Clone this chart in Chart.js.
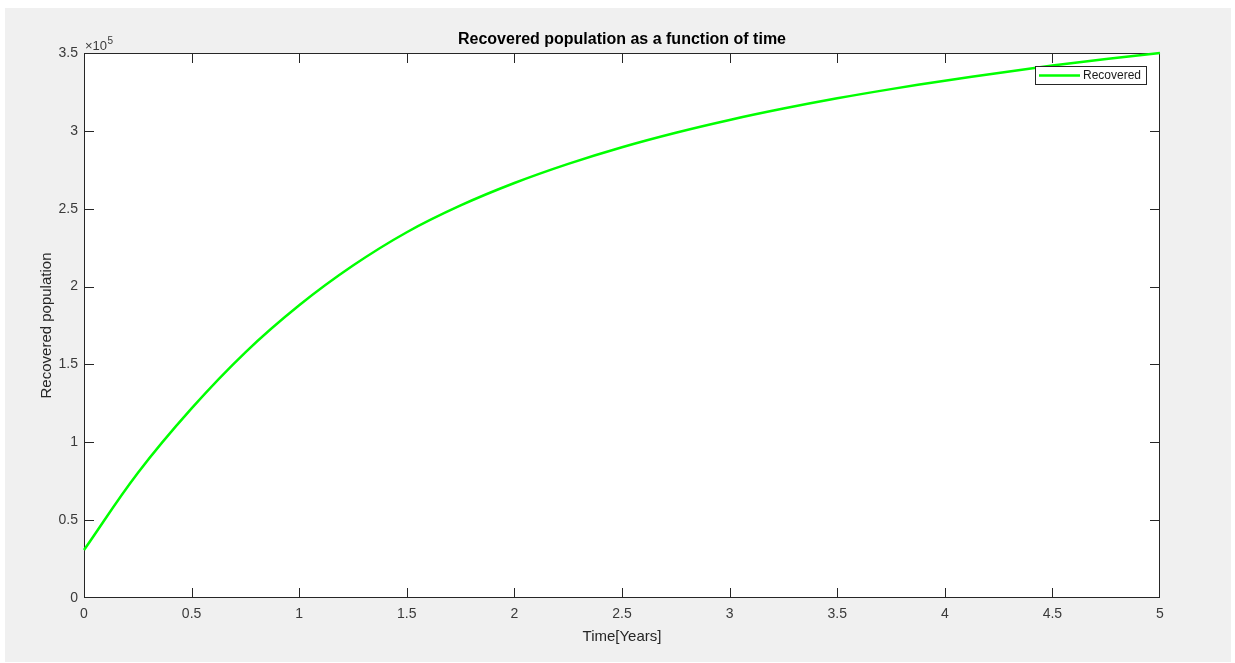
<!DOCTYPE html>
<html>
<head>
<meta charset="utf-8">
<title>Recovered population</title>
<script src="https://cdn.jsdelivr.net/npm/chart.js@4.4.0/dist/chart.umd.min.js"></script>
<style>
  html, body { margin: 0; padding: 0; background: #fff; }
  #wrap { width: 1235px; height: 663px; }
</style>
</head>
<body>
<div id="wrap"><canvas id="recoveredChart" width="1235" height="663"></canvas></div>
<script>
// values (time in years, people)
const timeYears = [0, 0.25, 0.5, 0.75, 1, 1.25, 1.5, 1.75, 2, 2.25, 2.5,
                   2.75, 3, 3.25, 3.5, 3.75, 4, 4.25, 4.5, 4.75, 5];
const recovered = [30800, 80300, 121800, 157800, 188000, 213500, 234900, 252100, 266500, 278800, 289500,
                   298800, 307000, 314300, 320900, 326800, 332200, 337200, 341900, 346100, 350000];

const xTickValues = [0, 0.5, 1, 1.5, 2, 2.5, 3, 3.5, 4, 4.5, 5];
const yTickValues = [0, 50000, 100000, 150000, 200000, 250000, 300000, 350000];
const yExponent = 5;

const FONT = '"Liberation Sans", Arial, Helvetica, sans-serif';
const AXIS_COLOR = '#262626';
const TICK_TEXT = '#3a3a3a';
const LINE_GREEN = '#00ff00';

// grey figure background + white axes area
const figureBackground = {
    id: 'figureBackground',
    beforeDraw(chart) {
        const ctx = chart.ctx;
        const a = chart.chartArea;
        ctx.save();
        ctx.fillStyle = '#ffffff';
        ctx.fillRect(0, 0, chart.width, chart.height);
        ctx.fillStyle = '#f0f0f0';
        ctx.fillRect(5, 8, 1226, 654);
        ctx.fillStyle = '#ffffff';
        ctx.fillRect(a.left, a.top, a.right - a.left, a.bottom - a.top);
        ctx.restore();
    }
};

// box around the axes with inward ticks on all four sides
const matlabBox = {
    id: 'matlabBox',
    beforeDatasetsDraw(chart) {
        const ctx = chart.ctx;
        const a = chart.chartArea;
        const xs = chart.scales.x, ys = chart.scales.y;
        const tl = 10;
        ctx.save();
        ctx.strokeStyle = AXIS_COLOR;
        ctx.lineWidth = 1;
        ctx.strokeRect(a.left + 0.5, a.top + 0.5, a.right - a.left - 1, a.bottom - a.top - 1);
        ctx.beginPath();
        xTickValues.slice(1, -1).forEach(function (v) {
            const px = Math.round(xs.getPixelForValue(v)) + 0.5;
            ctx.moveTo(px, a.bottom); ctx.lineTo(px, a.bottom - tl);
            ctx.moveTo(px, a.top); ctx.lineTo(px, a.top + tl);
        });
        yTickValues.slice(1, -1).forEach(function (v) {
            const py = Math.round(ys.getPixelForValue(v)) + 0.5;
            ctx.moveTo(a.left, py); ctx.lineTo(a.left + tl, py);
            ctx.moveTo(a.right, py); ctx.lineTo(a.right - tl, py);
        });
        ctx.stroke();
        ctx.restore();
    },
    afterDatasetsDraw(chart) {
        const ctx = chart.ctx;
        const a = chart.chartArea;
        // exponent label above the y axis
        ctx.save();
        ctx.fillStyle = TICK_TEXT;
        ctx.textBaseline = 'alphabetic';
        ctx.textAlign = 'left';
        ctx.font = '13px ' + FONT;
        ctx.fillText('\u00d710', a.left + 1, a.top - 3);
        const w = ctx.measureText('\u00d710').width;
        ctx.font = '10px ' + FONT;
        ctx.fillText(String(yExponent), a.left + 1 + w + 0.5, a.top - 9);

        // legend box
        const ds = chart.data.datasets[0];
        const bx = a.right - 125, by = a.top + 13, bw = 112, bh = 19;
        ctx.fillStyle = '#ffffff';
        ctx.fillRect(bx, by, bw, bh);
        ctx.strokeStyle = AXIS_COLOR;
        ctx.lineWidth = 1;
        ctx.strokeRect(bx + 0.5, by + 0.5, bw - 1, bh - 1);
        ctx.strokeStyle = ds.borderColor;
        ctx.lineWidth = ds.borderWidth;
        ctx.beginPath();
        ctx.moveTo(bx + 4, by + bh / 2);
        ctx.lineTo(bx + 45, by + bh / 2);
        ctx.stroke();
        ctx.fillStyle = '#1a1a1a';
        ctx.font = '12px ' + FONT;
        ctx.textBaseline = 'middle';
        ctx.fillText(ds.label, bx + 48, by + bh / 2 + 0.5);
        ctx.restore();
    }
};

new Chart(document.getElementById('recoveredChart'), {
    type: 'line',
    data: {
        datasets: [{
            label: 'Recovered',
            data: timeYears.map(function (t, i) { return { x: t, y: recovered[i] }; }),
            borderColor: LINE_GREEN,
            backgroundColor: LINE_GREEN,
            borderWidth: 2.5,
            pointRadius: 0,
            tension: 0.4,
            clip: false
        }]
    },
    options: {
        responsive: false,
        animation: false,
        devicePixelRatio: 1,
        layout: { padding: { top: 0, right: 75, bottom: 0, left: 0 } },
        plugins: {
            legend: { display: false },
            tooltip: { enabled: false },
            title: {
                display: true,
                fullSize: false,
                text: 'Recovered population as a function of time',
                color: '#000000',
                font: { family: FONT, size: 16, weight: 'bold' },
                padding: { top: 30, bottom: 3.8 }
            }
        },
        scales: {
            x: {
                type: 'linear',
                min: 0,
                max: 5,
                grid: { display: false, drawTicks: false },
                border: { display: false },
                afterBuildTicks: function (scale) {
                    scale.ticks = xTickValues.map(function (v) { return { value: v }; });
                },
                afterFit: function (scale) { scale.height = 65; },
                ticks: {
                    color: TICK_TEXT,
                    font: { family: FONT, size: 14 },
                    padding: 8,
                    maxRotation: 0,
                    autoSkip: false,
                    callback: function (v) { return String(v); }
                },
                title: {
                    display: true,
                    text: 'Time[Years]',
                    color: AXIS_COLOR,
                    font: { family: FONT, size: 15 },
                    padding: { top: 0, bottom: 17 }
                }
            },
            y: {
                type: 'linear',
                min: 0,
                max: 350000,
                grid: { display: false, drawTicks: false },
                border: { display: false },
                afterBuildTicks: function (scale) {
                    scale.ticks = yTickValues.map(function (v) { return { value: v }; });
                },
                afterFit: function (scale) { scale.width = 84; },
                ticks: {
                    color: TICK_TEXT,
                    font: { family: FONT, size: 14 },
                    padding: 6,
                    autoSkip: false,
                    callback: function (v) { return String(v / Math.pow(10, yExponent)); }
                },
                title: {
                    display: true,
                    text: 'Recovered population',
                    color: AXIS_COLOR,
                    font: { family: FONT, size: 15 },
                    padding: { top: 38, bottom: 0 }
                }
            }
        }
    },
    plugins: [figureBackground, matlabBox]
});
</script>
</body>
</html>
